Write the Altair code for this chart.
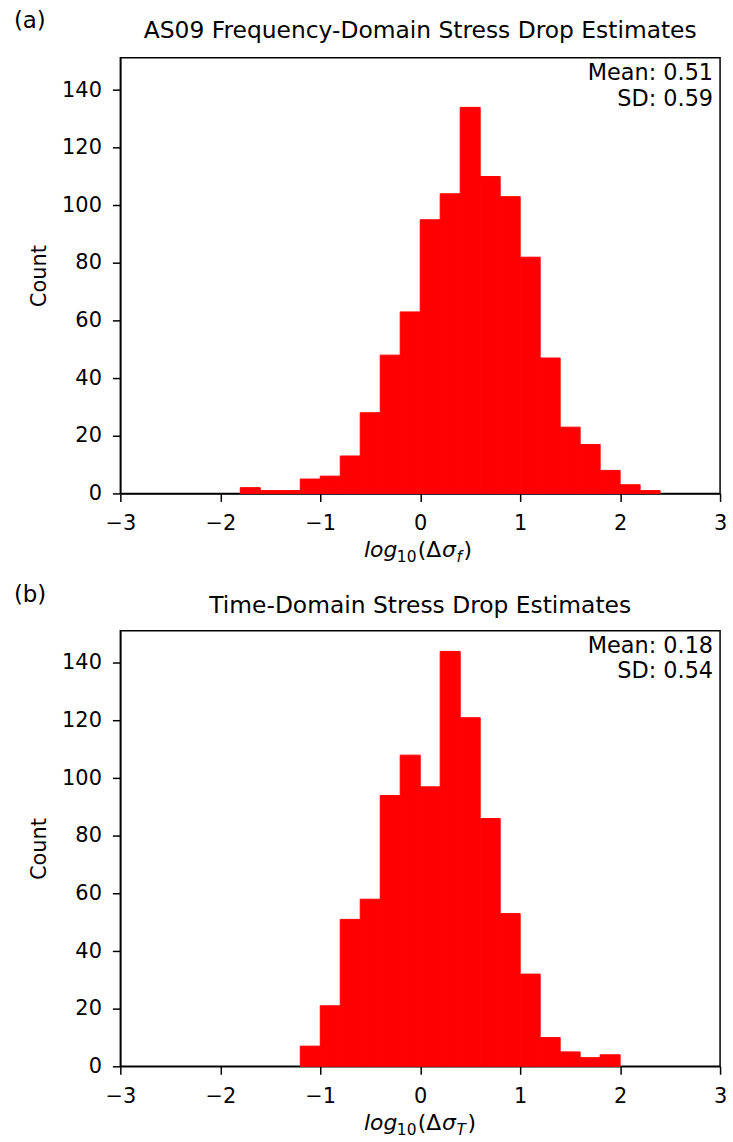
import altair as alt
import pandas as pd

# ---- data ----
bin_left_a = [-1.8, -1.6, -1.4, -1.2, -1.0, -0.8, -0.6, -0.4, -0.2, 0.0, 0.2,
              0.4, 0.6, 0.8, 1.0, 1.2, 1.4, 1.6, 1.8, 2.0, 2.2]
counts_a = [2, 1, 1, 5, 6, 13, 28, 48, 63, 95, 104,
            134, 110, 103, 82, 47, 23, 17, 8, 3, 1]

bin_left_b = [-1.2, -1.0, -0.8, -0.6, -0.4, -0.2, 0.0, 0.2,
              0.4, 0.6, 0.8, 1.0, 1.2, 1.4, 1.6, 1.8]
counts_b = [7, 21, 51, 58, 94, 108, 97, 144,
            121, 86, 53, 32, 10, 5, 3, 4]

bin_width = 0.2
x_ticks = [-3, -2, -1, 0, 1, 2, 3]
y_ticks = [0, 20, 40, 60, 80, 100, 120, 140]
x_domain = [-3, 3]
y_domain = [0, 151.2]

titles = ["AS09 Frequency-Domain Stress Drop Estimates",
          "Time-Domain Stress Drop Estimates"]
tags = ["(a)", "(b)"]
stats_a = ["Mean: 0.51", "SD: 0.59"]
stats_b = ["Mean: 0.18", "SD: 0.54"]
subscripts = ["f", "T"]

# ---- style ----
W, H = 603, 438
FONT = "DejaVu Sans"
TICK_FS = 21
LAB_FS = 22
SUB_FS = 15.5
STAT_FS = 22.5
RED = "#ff0000"


def annot(text, x, y, size, style="normal", align="left", baseline="alphabetic", line_height=None):
    kw = dict(text=text, font=FONT, fontSize=size, fontStyle=style, align=align,
              baseline=baseline, color="black")
    if line_height is not None:
        kw["lineHeight"] = line_height
    return alt.Chart(pd.DataFrame({"k": [0]})).mark_text(**kw).encode(
        x=alt.value(x), y=alt.value(y))


def panel(lefts, counts, title, title_y, tag, tag_y, stats, sub):
    df = pd.DataFrame({"left": lefts,
                       "right": [round(v + bin_width, 2) for v in lefts],
                       "count": counts})
    bars = alt.Chart(df).mark_rect(color=RED, stroke=RED, strokeWidth=1).encode(
        x=alt.X("left:Q",
                scale=alt.Scale(domain=x_domain, nice=False, zero=False),
                axis=alt.Axis(values=x_ticks, format="d", title=None, grid=False,
                              labelFont=FONT, labelFontSize=TICK_FS, labelColor="black",
                              labelPadding=11, tickSize=8, tickWidth=1.5, tickColor="black",
                              domainColor="black", domainWidth=1.5, labelFlush=False)),
        x2="right:Q",
        y=alt.Y("count:Q",
                scale=alt.Scale(domain=y_domain, nice=False),
                axis=alt.Axis(values=y_ticks, format="d", title="Count", grid=False,
                              labelFont=FONT, labelFontSize=TICK_FS, labelColor="black",
                              labelPadding=11, tickSize=8, tickWidth=1.5, tickColor="black",
                              domainColor="black", domainWidth=1.5,
                              titleFont=FONT, titleFontSize=TICK_FS, titleFontWeight="normal",
                              titleColor="black", titlePadding=12)),
        y2=alt.datum(0),
    )
    ly = 502
    x0 = 245
    layers = [
        bars,
        annot(stats, W - 7, 22, STAT_FS, align="right", line_height=26),
        annot(title, W / 2, title_y, 23.5, align="center"),
        annot(tag, -107, tag_y, 23),
        annot("log", x0, ly, LAB_FS, style="italic"),
        annot("10", x0 + 33, ly + 5, SUB_FS),
        annot("(\u0394", x0 + 54, ly, LAB_FS),
        annot("\u03c3", x0 + 78.5, ly, LAB_FS, style="italic"),
        annot(sub, x0 + 93, ly + 5, SUB_FS, style="italic"),
        annot(")", x0 + (100 if sub == "f" else 104), ly, LAB_FS),
    ]
    return alt.layer(*layers).properties(width=W, height=H)


pa = panel(bin_left_a, counts_a, titles[0], -20, tags[0], -30, stats_a, subscripts[0])
pb = panel(bin_left_b, counts_b, titles[1], -18, tags[1], -29, stats_b, subscripts[1])

chart = alt.vconcat(pa, pb, spacing=138, bounds="flush").properties(
    padding={"left": 13, "top": 6, "right": 5, "bottom": 5},
    background="white",
).configure_view(stroke="black", strokeWidth=1.5)

chart.save("out.html", embed_options={"renderer": "svg", "actions": False})
